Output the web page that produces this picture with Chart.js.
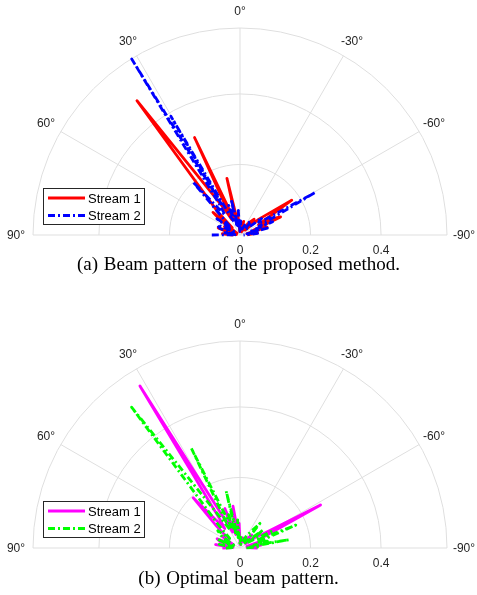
<!DOCTYPE html>
<html>
<head>
<meta charset="utf-8">
<script src="https://cdn.jsdelivr.net/npm/chart.js@4/dist/chart.umd.min.js"></script>
<style>
  body { margin: 0; background: #fff; width: 477px; height: 595px; position: relative; overflow: hidden; }
  canvas { position: absolute; left: 0; }
  .caption {
    position: absolute; left: 0; width: 477px; text-align: center;
    font-family: "Liberation Serif", "Times New Roman", serif; font-size: 19px; color: #000;
    word-spacing: 1px;
  }
</style>
</head>
<body>
<canvas id="beamA" width="477" height="262" style="top:0px"></canvas>
<div class="caption" style="top:253px">(a) Beam pattern of the proposed method.</div>
<canvas id="beamB" width="477" height="262" style="top:313px"></canvas>
<div class="caption" style="top:567px">(b) Optimal beam pattern.</div>
<script>
// angular ticks (deg) and radial rings
const thetaTicks = [90, 60, 30, 0, -30, -60, -90];
const rTicks = [0, 0.2, 0.4];
const rMax = 0.587;

// (a) proposed method: angle (deg) and magnitude samples
const thetaA1 = [90, 86, 82, 76, 72, 68, 62, 58, 53, 50, 47, 44, 37.5, 31, 28, 25, 21, 18, 15.5, 13, 9, 6, 3, -5, -15, -25, -35, -42, -46, -50, -56, -61, -63, -66, -70, -74, -78, -83, -90];
const gainA1  = [0.02, 0.05, 0.01, 0.04, 0.065, 0.01, 0.05, 0.01, 0.07, 0.10, 0.03, 0.09, 0.48, 0.09, 0.05, 0.305, 0.05, 0.07, 0.04, 0.165, 0.03, 0.06, 0.01, 0.02, 0.04, 0.01, 0.04, 0.06, 0.02, 0.07, 0.177, 0.06, 0.10, 0.126, 0.04, 0.08, 0.02, 0.05, 0.02];
const thetaA2 = [90, 87, 82, 78, 72, 66, 60, 55, 50, 46, 41.6, 37, 34, 31.6, 30.8, 30.2, 27, 24, 21, 18, 14, 10, 4, 1, -3, -12, -25, -38, -45, -52, -57, -60.5, -65, -68, -71, -76, -80, -85, -90];
const gainA2  = [0.08, 0.01, 0.05, 0.02, 0.06, 0.07, 0.02, 0.08, 0.04, 0.06, 0.2, 0.07, 0.1, 0.586, 0.1, 0.39, 0.06, 0.04, 0.09, 0.03, 0.105, 0.02, 0.07, 0.01, 0.04, 0.01, 0.03, 0.05, 0.02, 0.08, 0.06, 0.246, 0.06, 0.1, 0.03, 0.08, 0.02, 0.05, 0.01];

// (b) optimal beam pattern
const thetaB1 = [90, 86, 82, 78, 72, 68, 63, 57, 52, 47, 43, 38, 35, 31.7, 28, 25, 21, 17, 13, 9.5, 6, 2, -2, -15, -30, -42, -50, -55, -58, -61.9, -66, -72, -76, -82, -86, -90];
const gainB1  = [0.05, 0.02, 0.07, 0.02, 0.06, 0.07, 0.02, 0.06, 0.04, 0.09, 0.195, 0.07, 0.1, 0.54, 0.09, 0.05, 0.12, 0.04, 0.07, 0.12, 0.03, 0.07, 0.01, 0.03, 0.02, 0.05, 0.02, 0.06, 0.07, 0.259, 0.06, 0.07, 0.02, 0.06, 0.02, 0.05];
const thetaB2 = [90, 86, 80, 75, 69, 64, 58, 52, 47, 43, 37.6, 32, 29, 26, 22, 19, 16, 13.7, 10, 5, 1, -5, -15, -28, -39, -44, -52, -56, -62, -65, -67.7, -72, -76, -78, -80.4, -84, -87, -90];
const gainB2  = [0.04, 0.02, 0.06, 0.02, 0.07, 0.02, 0.06, 0.08, 0.04, 0.09, 0.504, 0.09, 0.06, 0.315, 0.06, 0.1, 0.04, 0.166, 0.03, 0.08, 0.01, 0.03, 0.01, 0.04, 0.09, 0.02, 0.083, 0.03, 0.10, 0.05, 0.171, 0.05, 0.08, 0.04, 0.141, 0.03, 0.05, 0.01];

const deg = Math.PI / 180;
// 0 deg points up, positive angles to the left
function toXY(thetas, gains) {
  return thetas.map((t, i) => ({ x: -gains[i] * Math.sin(t * deg), y: gains[i] * Math.cos(t * deg) }));
}

const tickColor = "#262626";
const gridColor = "#dfdfdf";

const polarGrid = {
  id: "polarGrid",
  beforeDatasetsDraw(chart) {
    const { ctx, scales } = chart;
    const cx = scales.x.getPixelForValue(0);
    const cy = scales.y.getPixelForValue(0);
    const px = (r) => scales.x.getPixelForValue(r) - cx;
    ctx.save();
    ctx.strokeStyle = gridColor;
    ctx.lineWidth = 1;
    [0.2, 0.4, rMax].forEach((r) => {
      ctx.beginPath();
      ctx.arc(cx, cy, px(r), Math.PI, 2 * Math.PI);
      ctx.stroke();
    });
    thetaTicks.forEach((t) => {
      const R = px(rMax);
      ctx.beginPath();
      ctx.moveTo(cx, cy);
      ctx.lineTo(cx - R * Math.sin(t * deg), cy - R * Math.cos(t * deg));
      ctx.stroke();
    });
    ctx.restore();
  },
  afterDraw(chart) {
    const { ctx, scales } = chart;
    const cx = scales.x.getPixelForValue(0);
    const cy = scales.y.getPixelForValue(0);
    const R = scales.x.getPixelForValue(rMax) - cx + 17;
    ctx.save();
    ctx.fillStyle = tickColor;
    ctx.font = '12px "Liberation Sans", Arial, sans-serif';
    ctx.textAlign = "center";
    ctx.textBaseline = "middle";
    thetaTicks.forEach((t) => {
      ctx.fillText(t + "\u00b0", cx - R * Math.sin(t * deg), cy - R * Math.cos(t * deg) + 1);
    });
    rTicks.forEach((r) => {
      ctx.fillText(String(r), scales.x.getPixelForValue(r), cy + 16);
    });

    // legend box
    const area = chart.chartArea;
    const lx = area.left + 10, ly = area.bottom - 47;
    ctx.fillStyle = "#fff";
    ctx.fillRect(lx, ly, 101, 36);
    ctx.strokeStyle = tickColor;
    ctx.lineWidth = 1;
    ctx.strokeRect(lx + 0.5, ly + 0.5, 101, 36);
    chart.data.datasets.forEach((ds, i) => {
      const yy = ly + 10 + i * 17.5;
      ctx.strokeStyle = ds.borderColor;
      ctx.lineWidth = ds.borderWidth;
      ctx.setLineDash(ds.borderDash || []);
      ctx.beginPath();
      ctx.moveTo(lx + 5, yy);
      ctx.lineTo(lx + 42, yy);
      ctx.stroke();
      ctx.setLineDash([]);
      ctx.fillStyle = "#000";
      ctx.font = '13px "Liberation Sans", Arial, sans-serif';
      ctx.textAlign = "left";
      ctx.fillText(ds.label, lx + 45, yy + 1);
    });
    ctx.restore();
  },
};

function beamChart(id, s1, s2, c1, c2) {
  const line = { borderWidth: 2.8, showLine: true, pointRadius: 0, clip: false, borderJoinStyle: "round", borderCapStyle: "butt" };
  return new Chart(document.getElementById(id), {
    type: "scatter",
    data: {
      datasets: [
        { ...line, label: "Stream 1", data: s1, borderColor: c1, order: 1 },
        { ...line, label: "Stream 2", data: s2, borderColor: c2, borderDash: [7, 3, 2, 3], order: 0 },
      ],
    },
    options: {
      responsive: false,
      animation: false,
      devicePixelRatio: 1,
      layout: { padding: { left: 33, right: 30, top: 28, bottom: 27 } },
      scales: {
        x: { type: "linear", min: -rMax, max: rMax, display: false },
        y: { type: "linear", min: 0, max: rMax, display: false },
      },
      plugins: { legend: { display: false }, tooltip: { enabled: false } },
    },
    plugins: [polarGrid],
  });
}

beamChart("beamA", toXY(thetaA1, gainA1), toXY(thetaA2, gainA2), "#ff0000", "#0000ff");
beamChart("beamB", toXY(thetaB1, gainB1), toXY(thetaB2, gainB2), "#ff00ff", "#00ff00");
</script>
</body>
</html>
